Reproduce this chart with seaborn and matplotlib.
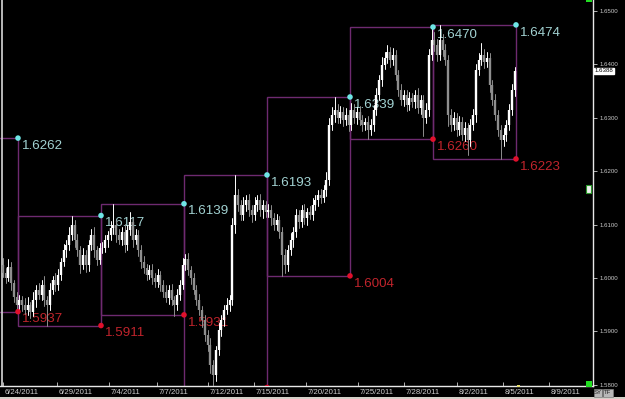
import numpy as np
import pandas as pd
import matplotlib
matplotlib.use("Agg")
import matplotlib.pyplot as plt
from matplotlib.patches import Rectangle
from matplotlib.transforms import ScaledTranslation, blended_transform_factory
import seaborn as sns

# ---------------- data (4-hour GBP/USD bars) ----------------
first_open = 1.6025
close_fri0624 = [1.6010, 1.6000, 1.6020, 1.5990, 1.5965, 1.5950]
up_fri0624 = [12, 8, 15, 10, 6, 8]
dn_fri0624 = [8, 10, 6, 12, 10, 13]

close_wk0627 = [1.5959, 1.5950, 1.5940, 1.5950, 1.5937, 1.5959, 1.5978, 1.5968, 1.5987, 1.5959,
                1.5950, 1.5978, 1.5996, 1.5987, 1.6006, 1.6030, 1.6052, 1.6062, 1.6080, 1.6099,
                1.6071, 1.6052, 1.6024, 1.6043, 1.6024, 1.6062, 1.6080, 1.6052, 1.6034, 1.6056]
up_wk0627 = [10, 8, 12, 15, 6, 14, 9, 12, 10, 16, 8, 12, 7, 14, 10, 8, 12, 9, 15, 18, 10, 12, 8, 14, 10, 9, 12, 16, 8, 10]
dn_wk0627 = [10, 12, 8, 10, 12, 9, 14, 8, 10, 12, 39, 10, 8, 12, 9, 10, 8, 12, 10, 9, 12, 10, 14, 8, 12, 10, 9, 12, 10, 8]

close_wk0704 = [1.6056, 1.6071, 1.6080, 1.6093, 1.6099, 1.6080, 1.6071, 1.6086, 1.6062, 1.6090,
                1.6105, 1.6071, 1.6080, 1.6052, 1.6030, 1.6019, 1.6006, 1.6015, 1.6000, 1.5993,
                1.6006, 1.5987, 1.5974, 1.5963, 1.5978, 1.5959, 1.5950, 1.5968, 1.5987, 1.6024]
up_wk0704 = [12, 10, 8, 14, 40, 10, 12, 9, 15, 10, 19, 8, 12, 10, 9, 12, 8, 10, 12, 9, 11, 8, 10, 12, 9, 10, 8, 12, 10, 14]
dn_wk0704 = [10, 8, 12, 9, 10, 12, 8, 10, 14, 9, 10, 12, 8, 10, 12, 9, 10, 8, 12, 10, 9, 12, 10, 8, 12, 10, 21, 9, 10, 8]

close_wk0711 = [1.6035, 1.6015, 1.6000, 1.5978, 1.5959, 1.5940, 1.5921, 1.5893, 1.5875, 1.5837,
                1.5818, 1.5865, 1.5903, 1.5921, 1.5940, 1.5950, 1.5959, 1.6099, 1.6155, 1.6137,
                1.6118, 1.6137, 1.6146, 1.6127, 1.6118, 1.6137, 1.6146, 1.6127, 1.6137, 1.6124]
up_wk0711 = [10, 12, 8, 10, 9, 12, 8, 10, 9, 12, 10, 8, 12, 10, 9, 12, 10, 14, 38, 12, 10, 14, 9, 12, 10, 15, 9, 12, 10, 8]
dn_wk0711 = [9, 10, 12, 8, 10, 9, 12, 10, 12, 14, 23, 10, 9, 12, 10, 8, 12, 10, 15, 12, 10, 9, 12, 10, 14, 9, 12, 10, 15, 10]

close_wk0718 = [1.6127, 1.6112, 1.6099, 1.6108, 1.6086, 1.6043, 1.6024, 1.6052, 1.6071, 1.6086,
                1.6118, 1.6105, 1.6127, 1.6112, 1.6124, 1.6118, 1.6137, 1.6146, 1.6155, 1.6150,
                1.6165, 1.6184, 1.6287, 1.6305, 1.6315, 1.6300, 1.6311, 1.6296, 1.6305, 1.6287]
up_wk0718 = [12, 10, 9, 12, 8, 10, 12, 9, 14, 10, 12, 9, 10, 12, 8, 10, 12, 9, 10, 12, 9, 14, 12, 15, 24, 10, 12, 9, 14, 10]
dn_wk0718 = [10, 12, 9, 10, 12, 39, 15, 10, 9, 12, 10, 12, 9, 10, 12, 8, 10, 9, 12, 10, 8, 12, 10, 9, 12, 10, 9, 12, 10, 12]

close_wk0725 = [1.6315, 1.6300, 1.6311, 1.6296, 1.6287, 1.6292, 1.6277, 1.6287, 1.6315, 1.6343,
                1.6371, 1.6399, 1.6412, 1.6423, 1.6408, 1.6418, 1.6380, 1.6352, 1.6333, 1.6343,
                1.6324, 1.6337, 1.6330, 1.6343, 1.6318, 1.6333, 1.6300, 1.6315, 1.6418, 1.6446]
up_wk0725 = [12, 10, 9, 12, 10, 8, 12, 10, 9, 12, 10, 14, 12, 13, 10, 12, 9, 10, 12, 9, 10, 12, 9, 10, 12, 10, 9, 12, 10, 24]
dn_wk0725 = [10, 9, 12, 10, 12, 9, 17, 10, 12, 9, 10, 12, 8, 10, 12, 9, 10, 12, 9, 10, 12, 9, 10, 12, 9, 10, 35, 10, 12, 9]

close_wk0801 = [1.6436, 1.6418, 1.6446, 1.6427, 1.6408, 1.6305, 1.6287, 1.6300, 1.6277, 1.6292,
                1.6268, 1.6281, 1.6258, 1.6287, 1.6305, 1.6390, 1.6408, 1.6418, 1.6405, 1.6412,
                1.6361, 1.6333, 1.6305, 1.6277, 1.6258, 1.6268, 1.6287, 1.6315, 1.6352, 1.6388]
up_wk0801 = [15, 12, 28, 10, 12, 9, 12, 10, 9, 12, 10, 12, 9, 10, 12, 10, 14, 22, 10, 12, 9, 10, 12, 9, 10, 12, 9, 10, 12, 8]
dn_wk0801 = [10, 12, 9, 12, 10, 20, 12, 10, 12, 9, 10, 12, 28, 10, 9, 12, 10, 9, 12, 10, 12, 9, 10, 12, 35, 10, 12, 9, 10, 12]

# weekly range boxes (previous week .. week of 8/1)
week_high = [1.6262, 1.6117, 1.6139, 1.6193, 1.6339, 1.6470, 1.6474]
week_low = [1.5937, 1.5911, 1.5931, 1.5795, 1.6004, 1.6260, 1.6223]
last_price = 1.6388

tick_labels = ["6/24/2011", "6/29/2011", "7/4/2011", "7/7/2011", "7/12/2011", "7/15/2011",
               "7/20/2011", "7/25/2011", "7/28/2011", "8/2/2011", "8/5/2011", "8/9/2011"]
tick_pos = [0.1, 19.6, 38.4, 55.7, 74.2, 90.8, 109.6, 128.4, 145.0, 164.2, 180.8, 197.4]
y_ticks = [1.58, 1.59, 1.60, 1.61, 1.62, 1.63, 1.64, 1.65]

# ---------------- build OHLC ----------------
closes = np.array(close_fri0624 + close_wk0627 + close_wk0704 + close_wk0711 +
                  close_wk0718 + close_wk0725 + close_wk0801)
ups = np.array(up_fri0624 + up_wk0627 + up_wk0704 + up_wk0711 + up_wk0718 + up_wk0725 + up_wk0801) * 1e-4
dns = np.array(dn_fri0624 + dn_wk0627 + dn_wk0704 + dn_wk0711 + dn_wk0718 + dn_wk0725 + dn_wk0801) * 1e-4
opens = np.concatenate([[first_open], closes[:-1]])
top = np.maximum(opens, closes)
bot = np.minimum(opens, closes)
highs = top + ups
lows = bot - dns
n = len(closes)

wick_rows, body_rows = [], []
for i in range(n):
    d = "up" if closes[i] >= opens[i] else "dn"
    wick_rows += [dict(x=i, y=lows[i], bar=i, dir=d), dict(x=i, y=highs[i], bar=i, dir=d)]
    b1 = bot[i]
    b2 = top[i] if top[i] - bot[i] > 0.00008 else bot[i] + 0.00008
    body_rows += [dict(x=i, y=b1, bar=i, dir=d), dict(x=i, y=b2, bar=i, dir=d)]
wick_df = pd.DataFrame(wick_rows)
body_df = pd.DataFrame(body_rows)

# week boundaries in bar units (6 bars per day, 30 per week)
edges = 5.5 + 30 * np.arange(-1, 7)
right_edges = edges[1:]

# ---------------- figure ----------------
sns.set_theme(style="dark")
plt.rcParams["font.family"] = ["DejaVu Sans"]
W, H = 625, 399
fig = plt.figure(figsize=(W / 100, H / 100), dpi=100, facecolor="black")
ax = fig.add_axes([0, 13 / H, 593 / W, 386 / H])
ax.set_facecolor("black")
ax.grid(False)

purple = "#6e2a70"
for k in range(7):
    ax.add_patch(Rectangle((edges[k], week_low[k]), edges[k + 1] - edges[k],
                           week_high[k] - week_low[k], fill=False, edgecolor=purple,
                           linewidth=1.0, zorder=1))

narrow = ["Liberation Sans Narrow", "Liberation Sans", "DejaVu Sans"]
for k in range(7):
    ax.annotate(f"{week_high[k]:.4f}", (right_edges[k], week_high[k]), xytext=(2.5, -1.2),
                textcoords="offset points", ha="left", va="top", fontsize=9.6,
                color="#a2d2d2", family=narrow, zorder=2, annotation_clip=True, clip_on=True)
    ax.annotate(f"{week_low[k]:.4f}", (right_edges[k], week_low[k]), xytext=(2.5, -1.2),
                textcoords="offset points", ha="left", va="top", fontsize=9.6,
                color="#c0242c", family=narrow, zorder=2, annotation_clip=True, clip_on=True)

ax.axvline(-0.3, color="#d8d8d8", linewidth=1.2, zorder=2)

pal = {"up": "#ffffff", "dn": "#8e8e8e"}
sns.lineplot(data=wick_df, x="x", y="y", units="bar", estimator=None, hue="dir", palette=pal,
             linewidth=0.7, legend=False, sort=False, ax=ax, zorder=3)
sns.lineplot(data=body_df, x="x", y="y", units="bar", estimator=None, hue="dir", palette=pal,
             linewidth=1.7, legend=False, sort=False, ax=ax, zorder=4, solid_capstyle="butt")

sns.scatterplot(x=right_edges, y=week_high, color="#6fe6e6", s=16, edgecolor="none", ax=ax, zorder=5)
sns.scatterplot(x=right_edges, y=week_low, color="#e0102c", s=16, edgecolor="none", ax=ax, zorder=5)

ax.set_xlim(-1.006, 213.33)
ax.set_ylim(1.57978, 1.65206)
ax.set_xlabel("")
ax.set_ylabel("")

# axes styling
for s in ["top", "left"]:
    ax.spines[s].set_visible(False)
for s in ["right", "bottom"]:
    ax.spines[s].set_visible(True)
    ax.spines[s].set_color("#e8e8e8")
    ax.spines[s].set_linewidth(1.0)

ax.yaxis.tick_right()
ax.set_yticks(y_ticks)
ax.set_yticklabels([f"{v:.4f}" for v in y_ticks])
ax.tick_params(axis="y", right=True, left=False, direction="out", length=3, width=0.6,
               color="#d0d0d0", labelsize=4.4, labelcolor="#c8c8c8", pad=1.5)
for lab in ax.get_yticklabels():
    lab.set_family(narrow)

ax.set_xticks(tick_pos)
ax.set_xticklabels(tick_labels)
ax.tick_params(axis="x", bottom=True, direction="in", length=3, width=0.6, color="#d0d0d0",
               labelsize=5.6, labelcolor="#d0d0d0", pad=2.5)
off = ScaledTranslation(2 / 100, 0, fig.dpi_scale_trans)
for lab in ax.get_xticklabels():
    lab.set_ha("left")
    lab.set_family(narrow)
    lab.set_transform(lab.get_transform() + off)

# last price tag on the price scale
tr = blended_transform_factory(ax.transAxes, ax.transData)
ax.text(1.002, last_price, f"{last_price:.4f}", transform=tr, ha="left", va="center",
        fontsize=4.4, family=narrow, color="black", clip_on=False, zorder=10,
        bbox=dict(boxstyle="square,pad=0.1", facecolor="white", edgecolor="white"))

# small platform widgets
fig.patches.append(Rectangle((586 / W, 12 / H), 6 / W, 6 / H, transform=fig.transFigure,
                             facecolor="#22dd22", edgecolor="none", zorder=5))
fig.patches.append(Rectangle((517 / W, 12 / H), 2.5 / W, 2.5 / H, transform=fig.transFigure,
                             facecolor="#e8e070", edgecolor="none", zorder=5))
fig.patches.append(Rectangle((586 / W, 206 / H), 5 / W, 8 / H, transform=fig.transFigure,
                             facecolor="#f0f0f0", edgecolor="#2a9a2a", linewidth=0.8, zorder=5))
fig.patches.append(Rectangle((586 / W, 397 / H), 6 / W, 2 / H, transform=fig.transFigure,
                             facecolor="#22dd22", edgecolor="none", zorder=5))
fig.patches.append(Rectangle((0, 0), 1, 1.6 / H, transform=fig.transFigure,
                             facecolor="#d4d0c8", edgecolor="none", zorder=5))
for x0, w, t in [(594, 8, "SY"), (603, 10, "TF")]:
    fig.patches.append(Rectangle((x0 / W, 2 / H), w / W, 8 / H, transform=fig.transFigure,
                                 facecolor="#b8b8b8", edgecolor="#808080", linewidth=0.5, zorder=5))
    fig.text((x0 + w / 2) / W, 6 / H, t, ha="center", va="center", fontsize=4.3,
             family=narrow, color="#202020", zorder=6)

fig.savefig("out.png", dpi=100, facecolor="black")
